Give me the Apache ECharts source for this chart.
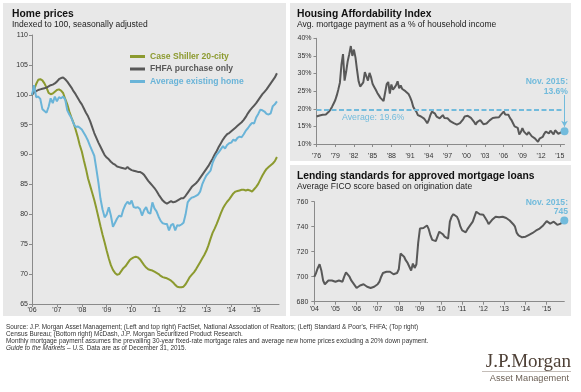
<!DOCTYPE html>
<html><head><meta charset="utf-8">
<script src="https://cdn.jsdelivr.net/npm/echarts@6/dist/echarts.min.js"></script>
<style>html,body{margin:0;padding:0;background:#fff;}#c{width:581px;height:392px;}</style>
</head><body><div id="c"></div>
<script>
// ---------- Data ----------
// Home prices, monthly Jan 2006 - Nov 2015 (index, 100 = Jan 2006)
const caseShiller = [
100.0,100.8,101.8,102.5,102.6,102.4,101.9,101.2,100.3,100.1,100.2,100.5,
100.8,100.9,100.7,100.3,99.3,98.4,97.2,96.2,95.3,94.2,93.0,91.6,
90.5,89.0,87.6,86.0,84.8,83.6,82.4,81.0,79.5,78.0,76.6,75.3,
73.9,72.6,71.5,70.7,70.2,69.9,70.0,70.5,71.0,71.3,71.8,72.3,
72.6,72.8,72.9,72.8,72.5,72.0,71.5,71.1,70.8,70.7,70.6,70.4,
70.2,70.0,69.7,69.5,69.4,69.3,69.1,68.9,68.6,68.2,67.9,67.8,
67.8,67.9,68.3,68.9,69.5,69.9,70.3,70.8,71.4,72.0,72.6,73.2,
73.9,74.8,75.9,76.9,77.6,78.4,79.3,80.2,81.0,81.6,82.1,82.5,
83.0,83.5,83.8,83.9,84.0,84.1,84.1,84.0,84.1,84.0,83.8,84.2,
84.6,85.1,85.8,86.5,87.1,87.6,87.9,88.2,88.5,88.9,89.6];
const fhfa = [
100.0,100.4,100.6,100.8,100.9,101.0,101.1,101.2,101.4,101.6,101.7,101.9,
102.2,102.6,102.8,102.9,102.6,102.2,101.7,101.2,100.6,100.1,99.5,98.9,
98.4,97.7,97.0,96.4,95.6,94.6,93.6,92.8,92.0,91.3,90.6,89.9,
89.5,89.2,88.8,88.5,88.3,88.0,87.9,87.8,87.7,87.6,87.9,87.6,
87.4,87.3,87.2,87.1,87.1,86.9,86.6,86.1,85.6,85.2,84.8,84.4,
83.9,83.3,82.8,82.3,82.0,81.8,82.0,82.2,82.0,82.1,82.3,82.5,
82.7,82.7,83.1,83.6,84.1,84.6,84.9,85.2,85.6,86.1,86.6,87.1,
87.6,88.1,88.7,89.3,90.0,90.6,91.3,91.9,92.5,93.0,93.4,93.6,
93.9,94.2,94.5,94.8,95.1,95.4,95.8,96.3,96.9,97.4,97.8,98.2,
98.6,99.1,99.6,100.1,100.5,100.9,101.4,101.9,102.4,102.9,103.6];
const avgExisting = [
100.0,101.6,99.6,99.7,99.3,97.6,97.3,97.0,98.0,99.4,98.6,99.7,
98.9,99.6,99.4,99.7,99.2,97.4,96.7,96.1,95.2,94.6,94.7,94.5,
94.2,93.6,93.0,92.3,91.4,90.6,89.8,87.6,85.3,82.6,80.8,79.5,
80.0,81.2,79.8,77.9,78.6,79.3,79.8,79.6,80.8,81.6,82.1,81.7,
82.3,81.2,81.1,81.2,80.9,79.8,80.7,81.2,80.3,80.1,82.0,81.0,
80.5,79.6,78.9,78.5,78.4,78.4,77.3,78.2,78.4,77.3,78.2,78.1,
78.3,78.6,80.0,82.0,82.5,82.8,82.9,83.1,83.3,83.8,85.0,85.8,
86.5,86.9,87.3,88.6,89.4,90.0,90.4,90.9,91.4,91.0,91.6,91.9,
92.0,92.5,92.3,92.8,93.0,92.9,93.4,94.0,94.4,94.9,95.3,95.2,
96.2,96.8,97.5,97.4,97.2,96.8,96.7,96.9,98.1,98.4,98.9];
const homeNames = ['Case Shiller 20-city','FHFA purchase only','Average existing home'];

// Housing affordability, quarterly 1976Q1 - 2015Q4 (% of household income)
const affordability = [
17.8,17.9,18.1,18.0, 18.3,18.5,18.4,18.8, 19.2,19.8,20.6,21.5, 22.4,23.8,25.5,27.4,
32.5,35.5,28.0,30.5, 33.5,35.5,37.8,35.0, 36.8,34.5,31.0,27.8, 26.3,26.8,27.5,30.4,
29.2,28.0,30.2,28.9, 27.0,26.2,25.4,24.5, 23.8,23.1,23.4,22.2, 21.8,27.0,27.6,24.3,
26.9,25.4,26.0,26.7, 27.8,25.8,26.6,25.6, 25.3,25.0,24.5,24.2, 23.3,22.2,20.6,19.8,
19.2,18.2,17.9,17.8, 17.5,17.2,16.6,15.9, 16.8,18.2,19.2,19.7, 18.6,17.8,17.4,17.3,
17.6,18.2,17.4,17.2, 17.3,16.8,16.4,16.2, 15.9,15.7,15.5,15.6, 15.9,16.3,17.0,17.8,
18.2,18.0,17.8,17.4, 16.9,16.3,15.5,16.2, 16.6,16.8,16.2,15.6, 15.4,15.8,16.3,16.7,
17.2,17.4,17.8,17.5, 17.2,17.6,18.2,18.6, 19.2,18.4,18.8,18.3, 17.4,16.8,15.9,15.0,
14.9,14.6,12.7,13.4, 14.5,13.5,13.0,12.6, 13.4,12.9,12.2,12.4, 11.6,11.1,10.6,11.5,
11.1,12.0,12.9,13.5, 13.2,13.0,13.8,14.0, 12.7,13.9,13.4,12.9, 12.6,13.4,13.0,13.6];
const affordAverage = 19.6;

// Average FICO score, monthly Jan 2004 - Nov 2015
const fico = [
700,703,707,710,705,697,694,695,697,697,697,697,
696,697,697,697,696,700,703.5,702,700,697,695,693,
691,692,693,693,694,694.5,692,691,691,691,692,692.5,
694,696,700,703,704,704,704,704,703.5,702,701,703,
706,718.5,717,716,713,711,708,705,710.5,707,710,727,
738.5,738,739,740,741,738,733,729.5,728,728.5,730,736,
736.5,734,732,731,730.5,744,748,750,749.5,748,745,740,
737,735.5,735.5,738,740,742,744,748,752,750.5,750,749.5,
749.5,748,745,742,743,745.5,747,748,748,747.5,748,748,
747.5,747,746,745,744,742,740,735,733,732,731.5,731,
732,733,733.5,734,735,736.5,737,737.5,738.5,739.5,741,742,
744.5,744,742.5,743.5,744,743,741.5,741,742.5,743,745];

// Category labels
function monthCats(y0, y1, lastMonth) {
  const out = [];
  for (let y = y0; y <= y1; y++) for (let m = 1; m <= 12; m++) {
    if (y === y1 && m > lastMonth) break;
    out.push(y + '-' + (m < 10 ? '0' + m : m));
  }
  return out;
}
const homeCats = monthCats(2006, 2015, 12);
const ficoCats = monthCats(2004, 2015, 11);
const affordCats = [];
for (let y = 1976; y <= 2015; y++) for (let q = 1; q <= 4; q++) affordCats.push(y + 'Q' + q);

// ---------- Styles ----------
const FONT = '"Liberation Sans", Arial, sans-serif';
const GREEN = '#8c9a2f', GRAY = '#585858', BLUE = '#6ab4d8', LBLUE = '#72bbdc';
const axisCol = '#8a8a8a';

function xAx(gi, cats, margin) {
  return {
    type: 'category', gridIndex: gi, data: cats, boundaryGap: false,
    axisLine: {show: true, lineStyle: {color: axisCol, width: 1}},
    axisTick: {show: true, interval: 11, length: 3, lineStyle: {color: axisCol}},
    axisLabel: {interval: 11, margin: margin, fontSize: 7, color: '#333', fontFamily: FONT,
      formatter: v => "'" + v.slice(2, 4)},
    splitLine: {show: false}
  };
}
function yAx(gi, min, max, iv, fmt, margin) {
  return {
    type: 'value', gridIndex: gi, min: min, max: max, interval: iv,
    axisLine: {show: true, lineStyle: {color: axisCol, width: 1}},
    axisTick: {show: true, length: 3, lineStyle: {color: axisCol}},
    axisLabel: {margin: margin, fontSize: 7, color: '#333', fontFamily: FONT, formatter: fmt},
    splitLine: {show: false}
  };
}
function txt(x, y, text, font, fill, align) {
  return {type: 'text', x: x, y: y, silent: true, z: 10,
    style: {text: text, font: font, fill: fill,
      align: align || 'left', textAlign: align || 'left',
      verticalAlign: 'middle', textVerticalAlign: 'middle',
      rich: {i: {fontStyle: 'italic', font: 'italic 6.4px ' + FONT, fill: fill}}}};
}

const lastA = affordCats.length - 1;
const lastF = ficoCats.length - 1;

const option = {
  animation: false,
  backgroundColor: '#ffffff',
  grid: [
    {left: 32, top: 35, width: 247, height: 269},
    {left: 316.5, top: 38.3, width: 248, height: 105.7},
    {left: 314.3, top: 201.7, width: 250, height: 100}
  ],
  xAxis: [xAx(0, homeCats, 3), xAx(1, affordCats, 9), xAx(2, ficoCats, 4)],
  yAxis: [yAx(0, 65, 110, 5, '{value}', 4), yAx(1, 10, 40, 5, '{value}%', 5), yAx(2, 680, 760, 20, '{value}', 6)],
  legend: {
    left: 130, top: 52, padding: 0, orient: 'vertical', itemWidth: 15, itemHeight: 3, itemGap: 3.5,
    icon: 'rect', selectedMode: false,
    textStyle: {fontSize: 8.6, fontWeight: 'bold', fontFamily: FONT, padding: [0, 0, 0, 0]},
    data: [
      {name: homeNames[0], textStyle: {color: GREEN}},
      {name: homeNames[1], textStyle: {color: GRAY}},
      {name: homeNames[2], textStyle: {color: BLUE}}
    ]
  },
  series: [
    {name: homeNames[0], type: 'line', xAxisIndex: 0, yAxisIndex: 0, data: caseShiller, showSymbol: false,
      lineStyle: {color: GREEN, width: 2}, itemStyle: {color: GREEN}},
    {name: homeNames[1], type: 'line', xAxisIndex: 0, yAxisIndex: 0, data: fhfa, showSymbol: false,
      lineStyle: {color: GRAY, width: 2}, itemStyle: {color: GRAY}},
    {name: homeNames[2], type: 'line', xAxisIndex: 0, yAxisIndex: 0, data: avgExisting, showSymbol: false,
      lineStyle: {color: BLUE, width: 2}, itemStyle: {color: BLUE}},
    {name: 'Affordability', type: 'line', xAxisIndex: 1, yAxisIndex: 1, data: affordability, showSymbol: false,
      lineStyle: {color: GRAY, width: 2}, itemStyle: {color: GRAY},
      markLine: {silent: true, symbol: 'none', label: {show: false},
        data: [
          {yAxis: affordAverage, lineStyle: {type: [5, 2.5], color: LBLUE, width: 2}},
          [{coord: [lastA, affordability[lastA] + 10.3], symbol: 'none', lineStyle: {color: LBLUE, width: 1, type: 'solid'}},
           {coord: [lastA, affordability[lastA] + 1.3], symbol: 'arrow', symbolSize: [5, 6]}]
        ]},
      markPoint: {silent: true, symbol: 'circle', symbolSize: 8, itemStyle: {color: LBLUE}, label: {show: false},
        data: [{coord: [lastA, affordability[lastA]]}]}
    },
    {name: 'FICO', type: 'line', xAxisIndex: 2, yAxisIndex: 2, data: fico, showSymbol: false,
      lineStyle: {color: GRAY, width: 2}, itemStyle: {color: GRAY},
      markPoint: {silent: true, symbol: 'circle', symbolSize: 8, itemStyle: {color: LBLUE}, label: {show: false},
        data: [{coord: [lastF, fico[lastF]]}]}
    }
  ],
  graphic: [
    {type: 'rect', z: -10, silent: true, shape: {x: 3, y: 3, width: 283, height: 313}, style: {fill: '#e8e8e8'}},
    {type: 'rect', z: -10, silent: true, shape: {x: 290, y: 3, width: 281, height: 158}, style: {fill: '#e8e8e8'}},
    {type: 'rect', z: -10, silent: true, shape: {x: 290, y: 165, width: 281, height: 151}, style: {fill: '#e8e8e8'}},
    txt(12, 14, 'Home prices', 'bold 10.3px ' + FONT, '#111'),
    txt(12, 25, 'Indexed to 100, seasonally adjusted', '8.5px ' + FONT, '#222'),
    txt(297, 14, 'Housing Affordability Index', 'bold 10.3px ' + FONT, '#111'),
    txt(297, 25, 'Avg. mortgage payment as a % of household income', '8.5px ' + FONT, '#222'),
    txt(297, 176, 'Lending standards for approved mortgage loans', 'bold 10.3px ' + FONT, '#111'),
    txt(297, 187, 'Average FICO score based on origination date', '8.5px ' + FONT, '#222'),
    txt(342, 118, 'Average: ' + affordAverage + '%', '8.8px ' + FONT, LBLUE),
    txt(568, 82, 'Nov. 2015:', 'bold 8.6px ' + FONT, LBLUE, 'right'),
    txt(568, 92, affordability[lastA] + '%', 'bold 8.6px ' + FONT, LBLUE, 'right'),
    txt(568, 203, 'Nov. 2015:', 'bold 8.6px ' + FONT, LBLUE, 'right'),
    txt(568, 212, String(fico[lastF]), 'bold 8.6px ' + FONT, LBLUE, 'right'),
    txt(6, 327, "Source: J.P. Morgan Asset Management; (Left and top right) FactSet, National Association of Realtors; (Left) Standard & Poor's, FHFA; (Top right)", '6.4px ' + FONT, '#333'),
    txt(6, 334, 'Census Bureau; (Bottom right) McDash, J.P. Morgan Securitized Product Research.', '6.4px ' + FONT, '#333'),
    txt(6, 341, 'Monthly mortgage payment assumes the prevailing 30-year fixed-rate mortgage rates and average new home prices excluding a 20% down payment.', '6.4px ' + FONT, '#333'),
    txt(6, 348, '{i|Guide to the Markets – U.S.} Data are as of December 31, 2015.', '6.4px ' + FONT, '#333'),
    txt(571, 362, 'J.P.Morgan', '19px "Liberation Serif", "Times New Roman", serif', '#4e4036', 'right'),
    {type: 'rect', z: 10, silent: true, shape: {x: 482, y: 371, width: 89, height: 0.6}, style: {fill: '#8a7d72'}},
    txt(569, 378, 'Asset Management', '9.2px ' + FONT, '#6b5f55', 'right')
  ]
};
const chart = echarts.init(document.getElementById('c'), null, {renderer: 'canvas'});
chart.setOption(option);
</script></body></html>
